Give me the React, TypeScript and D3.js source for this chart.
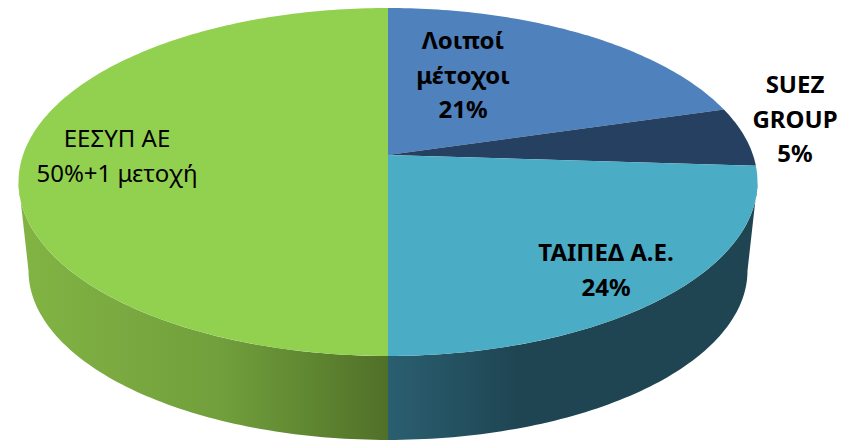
import React from "react";
import * as d3 from "d3";

const categories = ["Λοιποί μέτοχοι", "SUEZ GROUP", "ΤΑΙΠΕΔ Α.Ε.", "ΕΕΣΥΠ ΑΕ"];
const shares = [20.5, 5.5, 24, 50];
const topColors = ["#4f81bd", "#254061", "#4bacc6", "#92d050"];
const labelLines = [
  ["Λοιποί", "μέτοχοι", "21%"],
  ["SUEZ", "GROUP", "5%"],
  ["ΤΑΙΠΕΔ Α.Ε.", "24%"],
  ["ΕΕΣΥΠ ΑΕ", "50%+1 μετοχή"],
];
const labelX = [463, 795, 606, 117];
const labelY = [49, 93, 261, 147];
const labelBold = [true, true, true, false];

const W = 848;
const H = 441;
const CX = 388;
const CY = 155;
const A = 365;
const B = 169.8;
const K = 0.155;
const DEPTH_Y = 89.4;
const DEPTH_S = 0.973;
const LINE = 34.5;

function project(theta: number, bottom = false): [number, number] {
  const u = Math.sin(theta);
  const v = -Math.cos(theta);
  const w = 1 - K * v;
  const s = bottom ? DEPTH_S : 1;
  return [CX + (s * A * u) / w, CY + (bottom ? DEPTH_Y : 0) + (s * B * v) / w];
}

const sample = (a0: number, a1: number) => {
  const n = Math.max(2, Math.ceil(((a1 - a0) / (2 * Math.PI)) * 360));
  return d3.range(n + 1).map((i) => a0 + ((a1 - a0) * i) / n);
};

const line = d3.line<[number, number]>().x((d) => d[0]).y((d) => d[1]);

// The outermost points of the projected rim lie slightly in front of the horizontal diameter.
const rimOffset = Math.asin(K);

export default function App() {
  const arcs = d3.pie<number>().sort(null).startAngle(0).endAngle(2 * Math.PI)(shares);
  const sideArcs = [
    { fill: "url(#tealSide)", a0: Math.PI * 0.5 + rimOffset, a1: Math.PI },
    { fill: "url(#greenSide)", a0: Math.PI, a1: Math.PI * 1.5 - rimOffset },
  ];
  return (
    <svg width={W} height={H} style={{ position: "absolute", left: 0, top: 0 }}>
      <defs>
        <linearGradient id="greenSide" gradientUnits="userSpaceOnUse" x1={18} x2={CX} y1={0} y2={0}>
          <stop offset="0" stopColor="#82b444" />
          <stop offset="0.55" stopColor="#719f3c" />
          <stop offset="1" stopColor="#507028" />
        </linearGradient>
        <linearGradient id="tealSide" gradientUnits="userSpaceOnUse" x1={CX} x2={757} y1={0} y2={0}>
          <stop offset="0" stopColor="#2a5f70" />
          <stop offset="0.35" stopColor="#1f4553" />
          <stop offset="1" stopColor="#1f4553" />
        </linearGradient>
      </defs>
      {sideArcs.map((s, i) => {
        const angles = sample(s.a0, s.a1);
        const pts = [
          ...angles.map((a) => project(a)),
          ...angles.slice().reverse().map((a) => project(a, true)),
        ];
        return <path key={i} d={line(pts)! + "Z"} fill={s.fill} />;
      })}
      {arcs.map((d, i) => {
        const pts: [number, number][] = [[CX, CY], ...sample(d.startAngle, d.endAngle).map((a) => project(a))];
        return <path key={categories[i]} d={line(pts)! + "Z"} fill={topColors[i]} />;
      })}
      {labelLines.map((lines, i) => (
        <text
          key={i}
          textAnchor="middle"
          fontFamily="'Noto Sans', sans-serif"
          fontSize={24}
          fontWeight={labelBold[i] ? 700 : 400}
          fill="#000"
        >
          {lines.map((t, j) => (
            <tspan key={j} x={labelX[i]} y={labelY[i] + j * LINE}>{t}</tspan>
          ))}
        </text>
      ))}
    </svg>
  );
}
